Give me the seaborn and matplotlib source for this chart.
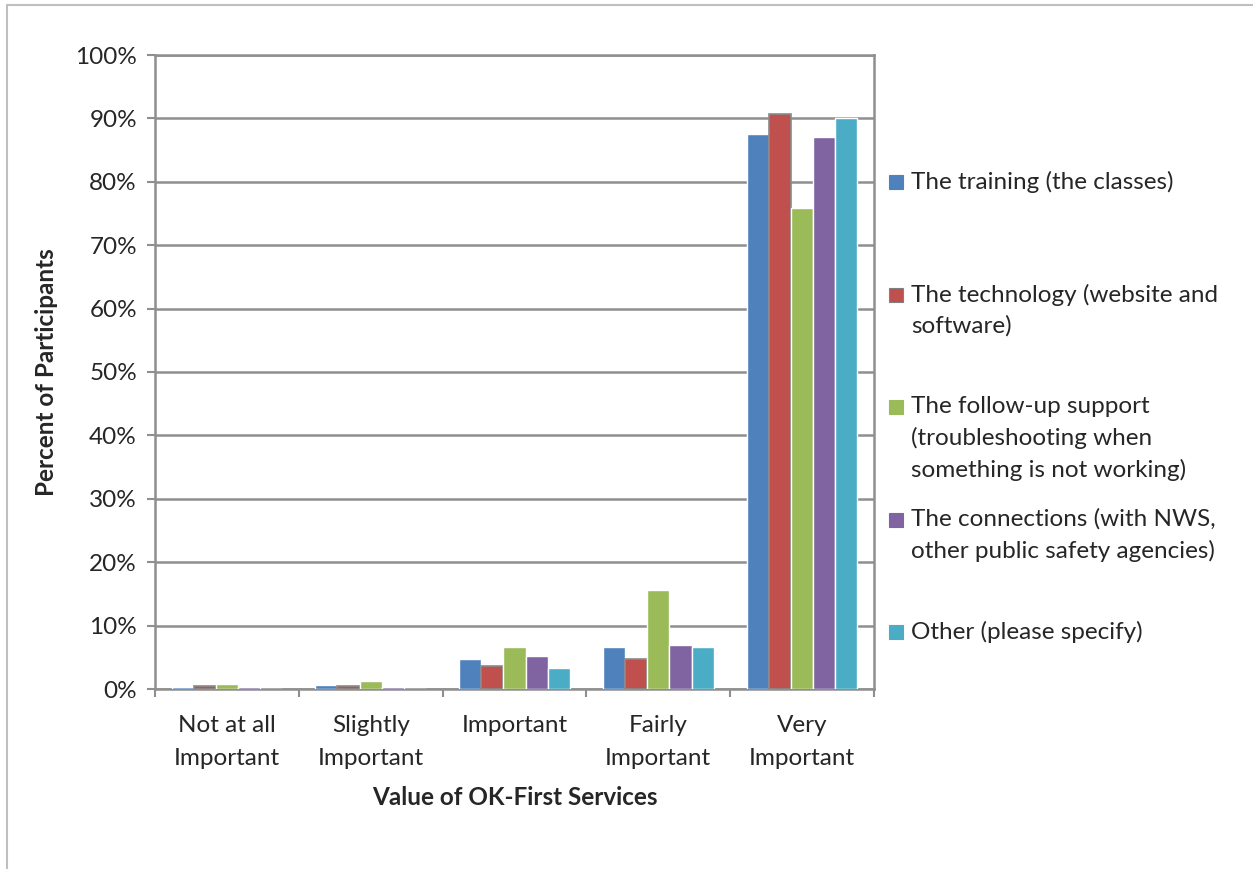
import pandas as pd
import numpy as np
import matplotlib
matplotlib.use('Agg')
import matplotlib.pyplot as plt
import seaborn as sns
from matplotlib.patches import Rectangle
from matplotlib.lines import Line2D
from matplotlib.ticker import PercentFormatter

# ── Data ──────────────────────────────────────────────────────
levels = ["Not at all\nImportant", "Slightly\nImportant", "Important",
          "Fairly\nImportant", "Very\nImportant"]
services = ["The training (the classes)",
            "The technology (website and\nsoftware)",
            "The follow-up support\n(troubleshooting when\nsomething is not working)",
            "The connections (with NWS,\nother public safety agencies)",
            "Other (please specify)"]
training    = [0.3, 0.6, 4.7, 6.6, 87.5]
technology  = [0.4, 0.4, 3.7, 4.8, 90.7]
followup    = [0.8, 1.2, 6.6, 15.6, 75.9]
connections = [0.3, 0.3, 5.2, 6.9, 87.1]
other       = [0.0, 0.0, 3.3, 6.6, 90.1]
colors = ["#4F81BD", "#C0504D", "#9BBB59", "#8064A2", "#4BACC6"]

series = [training, technology, followup, connections, other]
df = pd.DataFrame({
    "level":   np.repeat([levels], len(services), axis=0).ravel(),
    "service": np.repeat(services, len(levels)),
    "pct":     np.concatenate(series),
})

sns.set_style("white")
plt.rcParams['font.family'] = ['Lato', 'DejaVu Sans']
GRID = "#8f8f8f"
FS = 17.5

fig = plt.figure(figsize=(12.53, 8.69), dpi=100)
ax = fig.add_axes([155/1253, 180/869, 719/1253, 634/869])

sns.barplot(data=df, x="level", y="pct", hue="service", order=levels,
            hue_order=services, palette=colors, width=0.77, gap=0,
            saturation=1, legend=False, ax=ax, zorder=3)

# gray outline on the technology bars, like the original
for bar in ax.containers[1]:
    bar.set_edgecolor("#8a8a8a")
    bar.set_linewidth(1.2)

ax.set_ylim(0, 100)
ax.set_xlim(-0.5, len(levels) - 0.5)
ax.set_yticks(np.arange(0, 101, 10))
ax.yaxis.set_major_formatter(PercentFormatter(decimals=0))
ax.yaxis.grid(True, color=GRID, linewidth=1.8, zorder=0)
ax.set_axisbelow(True)
for s in ax.spines.values():
    s.set_color(GRID)
    s.set_linewidth(1.8)

ax.tick_params(axis="y", which="major", left=True, length=6, width=1.5,
               color=GRID, pad=7, labelsize=FS)
ax.set_xticks(np.arange(-0.5, len(levels), 1), minor=True)
ax.tick_params(axis="x", which="minor", bottom=True, length=6, width=1.5,
               color=GRID)
ax.tick_params(axis="x", which="major", bottom=False, pad=15, labelsize=FS)
for t in ax.get_xticklabels():
    t.set_linespacing(1.75)

ax.set_xlabel("Value of OK-First Services", fontsize=FS, fontweight="bold",
              labelpad=12)
ax.set_ylabel("Percent of Participants", fontsize=FS, fontweight="bold",
              labelpad=12)

# ── Legend, Excel-style: markers evenly spaced, text hangs below ──
leg_top = 182
leg_step = 112.5
for i, (label, col) in enumerate(zip(services, colors)):
    yc = 1 - (leg_top + i * leg_step) / 869
    fig.patches.append(Rectangle((889/1253, yc - 7/869), 14/1253, 14/869,
                                 transform=fig.transFigure, facecolor=col,
                                 edgecolor="#808080" if i == 1 else col,
                                 linewidth=0.8))
    fig.text(911/1253, yc + 11/869, label, fontsize=FS, va="top", ha="left",
             linespacing=1.55)

# outer chart border (left and top visible)
fig.add_artist(Line2D([7/1253, 7/1253], [0, 1 - 5/869], color="#bfbfbf",
                      linewidth=1.5, transform=fig.transFigure))
fig.add_artist(Line2D([7/1253, 1], [1 - 5/869, 1 - 5/869], color="#bfbfbf",
                      linewidth=1.5, transform=fig.transFigure))

fig.savefig("out.png", dpi=100)
